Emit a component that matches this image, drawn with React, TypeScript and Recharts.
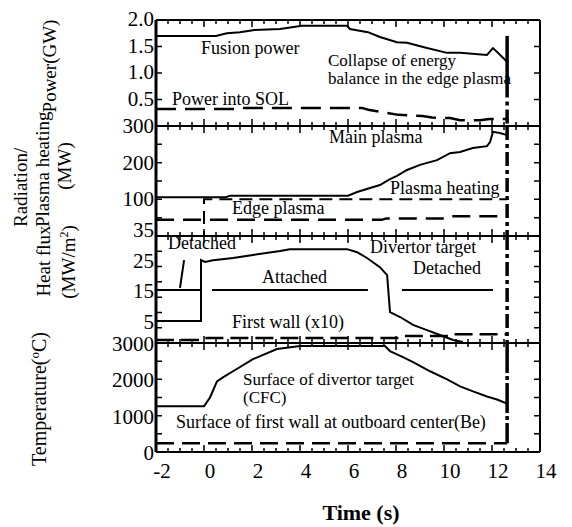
import React from "react";
import { ComposedChart, Line, XAxis, YAxis, ReferenceLine } from "recharts";

const FONT = '"Liberation Serif", "Times New Roman", serif';

// time axis (s)
const X_TICKS = [
  -2, -1.5, -1, -0.5, 0, 0.5, 1, 1.5, 2, 2.5, 3, 3.5, 4, 4.5, 5, 5.5, 6, 6.5,
  7, 7.5, 8, 8.5, 9, 9.5, 10, 10.5, 11, 11.5, 12, 12.5, 13, 13.5, 14,
];
const X_LABELS = [-2, 0, 2, 4, 6, 8, 10, 12, 14];
const COLLAPSE_T = 12.63;

// panel 1: power (GW)
const fusionPower = [
  { t: -2, v: 1.7 }, { t: 0.5, v: 1.7 }, { t: 0.95, v: 1.75 }, { t: 1.5, v: 1.77 },
  { t: 2.1, v: 1.81 }, { t: 3.17, v: 1.83 }, { t: 4.08, v: 1.89 }, { t: 5.96, v: 1.89 },
  { t: 6.08, v: 1.83 }, { t: 6.83, v: 1.77 }, { t: 7.33, v: 1.68 }, { t: 8.04, v: 1.58 },
  { t: 8.46, v: 1.57 }, { t: 9.29, v: 1.47 }, { t: 10.13, v: 1.38 }, { t: 10.67, v: 1.38 },
  { t: 11.79, v: 1.34 }, { t: 12.04, v: 1.47 }, { t: 12.3, v: 1.36 }, { t: 12.63, v: 1.21 },
];
const powerIntoSol = [
  { t: -2, v: 0.32 }, { t: 1.4, v: 0.32 }, { t: 1.6, v: 0.34 }, { t: 6.6, v: 0.34 },
  { t: 6.9, v: 0.3 }, { t: 7.6, v: 0.25 }, { t: 8.1, v: 0.21 }, { t: 9.1, v: 0.19 },
  { t: 9.5, v: 0.16 }, { t: 10.25, v: 0.15 }, { t: 10.67, v: 0.11 }, { t: 11.5, v: 0.11 },
  { t: 11.9, v: 0.13 }, { t: 12.63, v: 0.13 },
];

// panel 2: radiation / plasma heating (MW)
const mainPlasma = [
  { t: -2, v: 106 }, { t: 0.9, v: 106 }, { t: 1.1, v: 110 }, { t: 6.0, v: 110 },
  { t: 6.38, v: 120 }, { t: 6.92, v: 131 }, { t: 7.33, v: 139 }, { t: 7.75, v: 155 },
  { t: 8.04, v: 164 }, { t: 8.46, v: 180 }, { t: 9.0, v: 194 }, { t: 9.71, v: 207 },
  { t: 10.25, v: 226 }, { t: 10.67, v: 229 }, { t: 11.2, v: 240 }, { t: 11.79, v: 245 },
  { t: 11.92, v: 256 }, { t: 12.04, v: 284 }, { t: 12.33, v: 281 }, { t: 12.63, v: 275 },
];
const plasmaHeating = [
  { t: -2, v: 0 }, { t: 0, v: 0 }, { t: 0, v: 100 }, { t: 12.63, v: 100 },
];
const edgePlasma = [
  { t: -2, v: 44 }, { t: 7.4, v: 44 }, { t: 7.6, v: 48 }, { t: 10.1, v: 48 },
  { t: 10.3, v: 54 }, { t: 12.63, v: 54 },
];

// panel 3: heat flux (MW/m2)
const divertorFlux = [
  { t: -2, v: 7.2 }, { t: -0.125, v: 7.2 }, { t: -0.125, v: 27.1 }, { t: 0.04, v: 26.5 },
  { t: 0.38, v: 27.1 }, { t: 1.21, v: 27.8 }, { t: 2.04, v: 28.8 }, { t: 3.17, v: 30.1 },
  { t: 3.58, v: 30.7 }, { t: 5.96, v: 30.7 }, { t: 6.38, v: 29.7 }, { t: 6.79, v: 27.8 },
  { t: 7.33, v: 24.8 }, { t: 7.63, v: 22.2 }, { t: 7.75, v: 10.1 }, { t: 8.17, v: 8.5 },
  { t: 8.71, v: 5.9 }, { t: 9.29, v: 4.2 }, { t: 9.83, v: 2.6 }, { t: 10.38, v: 1.0 },
  { t: 10.79, v: 0.3 },
];
const firstWallFlux = [
  { t: -2, v: 1.0 }, { t: 0, v: 1.0 }, { t: 0.1, v: 1.6 }, { t: 8.1, v: 1.6 },
  { t: 8.3, v: 2.3 }, { t: 10.2, v: 2.3 }, { t: 10.4, v: 2.9 }, { t: 12.63, v: 2.9 },
];
// regime bars (Detached / Attached / Detached) and the pointer of the first label
const regimeBars = [
  [{ x: -2, y: 17.3 }, { x: -0.125, y: 17.3 }],
  [{ x: 0.33, y: 17.3 }, { x: 6.83, y: 17.3 }],
  [{ x: 8.25, y: 17.3 }, { x: 12.04, y: 17.3 }],
  [{ x: -1.0, y: 18.0 }, { x: -0.83, y: 27.1 }],
];

// panel 4: temperature (oC)
const divertorTemp = [
  { t: -2, v: 1258 }, { t: 0, v: 1258 }, { t: 0.25, v: 1500 }, { t: 0.54, v: 1944 },
  { t: 0.79, v: 2055 }, { t: 1.21, v: 2222 }, { t: 2.04, v: 2555 }, { t: 3.04, v: 2833 },
  { t: 4.0, v: 2917 }, { t: 7.54, v: 2917 }, { t: 7.75, v: 2778 }, { t: 8.29, v: 2611 },
  { t: 8.71, v: 2472 }, { t: 9.42, v: 2222 }, { t: 10.13, v: 2000 }, { t: 10.67, v: 1806 },
  { t: 11.21, v: 1667 }, { t: 11.79, v: 1528 }, { t: 12.21, v: 1444 }, { t: 12.63, v: 1330 },
];
const firstWallTemp = [
  { t: -2, v: 240 }, { t: 12.63, v: 240 },
];

const PAD = 20; // svg space above each plot
const XH = 30; // x axis height (space below each plot)
const YW = 60; // y axis width
const LEFT = 156; // plot left edge
const RIGHT = 540; // plot right edge

// ticks on the bottom and top borders, drawn inward; labels only on the last panel
const xTick = (plotTop: number, plotBottom: number, showLabels: boolean) => (p: any) => {
  const v = p.payload.value;
  const major = X_LABELS.includes(v);
  const len = major ? 7 : 4;
  return (
    <g>
      <path d={`M${p.x},${plotBottom}v${-len}M${p.x},${plotTop}v${len}`} stroke="#000" strokeWidth={1.5} fill="none" />
      {showLabels && major && (
        <text x={p.x + 6} y={plotBottom + 26} textAnchor="middle" fontSize={21} fontFamily={FONT} fill="#000">
          {v}
        </text>
      )}
    </g>
  );
};

// ticks on the left and right borders, drawn inward, with labels on the left
const yTick = (labels: number[], digits: number, dy: number) => (p: any) => {
  const v = p.payload.value;
  return (
    <g>
      <path d={`M${LEFT},${p.y}h6M${RIGHT},${p.y}h-6`} stroke="#000" strokeWidth={1.5} fill="none" />
      {labels.includes(v) && (
        <text x={LEFT - 2} y={p.y + dy} textAnchor="end" dominantBaseline="central" fontSize={21} fontFamily={FONT} fill="#000">
          {v.toFixed(digits)}
        </text>
      )}
    </g>
  );
};

type PanelProps = {
  top: number;
  bottom: number;
  domain: [number, number];
  ticks: number[];
  labels: number[];
  digits: number;
  dy: number;
  last?: boolean;
  children: React.ReactNode;
};

const Panel = ({ top, bottom, domain, ticks, labels, digits, dy, last, children }: PanelProps) => {
  const h = bottom - top;
  const extra = last ? 20 : 0;
  return (
    <div style={{ position: "absolute", left: 0, top: top - PAD }}>
      <ComposedChart
        width={572}
        height={PAD + h + XH + extra}
        margin={{ top: PAD, bottom: extra, left: LEFT - YW, right: 572 - RIGHT }}
      >
        <XAxis xAxisId="x" orientation="bottom" dataKey="t" type="number" domain={[-2, 14]}
          ticks={X_TICKS} interval={0} height={XH} tickLine={{ stroke: "none" }}
          axisLine={{ stroke: "#000", strokeWidth: 2 }} tick={xTick(PAD, PAD + h, !!last)} />
        <YAxis yAxisId="y" orientation="left" type="number" domain={domain} ticks={ticks}
          interval={0} width={YW} tickLine={{ stroke: "none" }}
          axisLine={{ stroke: "#000", strokeWidth: 3 }} tick={yTick(labels, digits, dy)} />
        <ReferenceLine xAxisId="x" yAxisId="y" y={domain[1]} stroke="#000" strokeWidth={2} />
        <ReferenceLine xAxisId="x" yAxisId="y" x={14} stroke="#000" strokeWidth={2} />
        {children}
      </ComposedChart>
    </div>
  );
};

const series = (data: { t: number; v: number }[], dash?: string, width = 2) => (
  <Line
    xAxisId="x"
    yAxisId="y"
    data={data}
    dataKey="v"
    type="linear"
    stroke="#000"
    strokeWidth={width}
    strokeDasharray={dash}
    dot={false}
    activeDot={false}
    isAnimationActive={false}
  />
);

const DASH_DOT = "14 4 4 4";

const collapse = (from: number, to: number, dash?: string) => (
  <ReferenceLine
    xAxisId="x"
    yAxisId="y"
    segment={[{ x: COLLAPSE_T, y: from }, { x: COLLAPSE_T, y: to }]}
    stroke="#000"
    strokeWidth={3.5}
    strokeDasharray={dash}
  />
);

const txt = { fontFamily: FONT, fontSize: 18, fill: "#000" } as const;
const tight = { fontFamily: FONT, fontSize: 17, fill: "#000" } as const;

const App = () => (
  <div style={{ position: "absolute", left: 0, top: 0, width: 572, height: 527, background: "#fff" }}>
    <Panel top={20} bottom={126} domain={[0, 2]} ticks={[0.5, 1, 1.5, 2]} labels={[0.5, 1, 1.5, 2]} digits={1} dy={-1}>
      {series(fusionPower)}
      {series(powerIntoSol, "20 9", 2.5)}
      {collapse(1.7, 0.8)}
      {collapse(0.8, 0, DASH_DOT)}
    </Panel>
    <Panel top={126} bottom={236} domain={[0, 300]} ticks={[50, 100, 150, 200, 250, 300]} labels={[100, 200, 300]} digits={0} dy={0}>
      {series(mainPlasma)}
      {series(plasmaHeating, "13 7", 2)}
      {series(edgePlasma, "18 9", 2.5)}
      {collapse(300, 0, DASH_DOT)}
    </Panel>
    <Panel top={236} bottom={343} domain={[0, 35]} ticks={[5, 10, 15, 20, 25, 30, 35]} labels={[5, 15, 25, 35]} digits={0} dy={-6}>
      {series(divertorFlux)}
      {series(firstWallFlux, "18 7", 2.5)}
      {regimeBars.map((seg, i) => (
        <ReferenceLine key={i} xAxisId="x" yAxisId="y" segment={seg} stroke="#000" strokeWidth={2} />
      ))}
      {collapse(35, 0, DASH_DOT)}
    </Panel>
    <Panel top={343} bottom={452} domain={[0, 3000]} ticks={[0, 500, 1000, 1500, 2000, 2500, 3000]} labels={[0, 1000, 2000, 3000]} digits={0} dy={1} last>
      {series(divertorTemp)}
      {series(firstWallTemp, "18 8", 2.5)}
      {collapse(3000, 240, "30 3 4 3")}
    </Panel>

    <svg width={572} height={527} style={{ position: "absolute", left: 0, top: 0, pointerEvents: "none" }}>
      <g dominantBaseline="central">
        <text x={201} y={48} {...txt}>Fusion power</text>
        <text x={328} y={60} {...tight}>Collapse of energy</text>
        <text x={328} y={78} {...tight}>balance in the edge plasma</text>
        <text x={172} y={99} {...txt}>Power into SOL</text>
        <text x={329} y={137} {...txt}>Main plasma</text>
        <text x={390} y={188} {...txt}>Plasma heating</text>
        <text x={232} y={208} {...txt}>Edge plasma</text>
        <text x={168} y={243} {...txt}>Detached</text>
        <text x={262} y={277} {...txt}>Attached</text>
        <text x={370} y={247} {...txt}>Divertor target</text>
        <text x={413} y={268} {...txt}>Detached</text>
        <text x={232} y={322} {...txt}>First wall (x10)</text>
        <text x={243} y={379} {...tight}>Surface of divertor target</text>
        <text x={243} y={397} {...tight}>(CFC)</text>
        <text x={176} y={422} {...txt}>Surface of first wall at outboard center(Be)</text>
      </g>
      <text x={361} y={520} textAnchor="middle" fontFamily={FONT} fontSize={22} fontWeight="bold">Time (s)</text>

      <g fontFamily={FONT} fontSize={19} fill="#000">
        <text transform="translate(56,66) rotate(-90)" textAnchor="middle">Power(GW)</text>
        <text transform="translate(27,227) rotate(-90)" textAnchor="start">Radiation/</text>
        <text transform="translate(49,227) rotate(-90)" textAnchor="start">Plasma heating</text>
        <text transform="translate(71,166) rotate(-90)" textAnchor="middle">(MW)</text>
        <text transform="translate(50,261) rotate(-90)" textAnchor="middle">Heat flux</text>
        <text transform="translate(75,262) rotate(-90)" textAnchor="middle">
          (MW/m<tspan fontSize={12} dy={-7}>2</tspan><tspan dy={7}>)</tspan>
        </text>
        <text transform="translate(46,399) rotate(-90)" textAnchor="middle" fontSize={20}>
          Temperature(<tspan fontSize={13} dy={-7}>o</tspan><tspan dy={7}>C)</tspan>
        </text>
      </g>
    </svg>
  </div>
);

export default App;
